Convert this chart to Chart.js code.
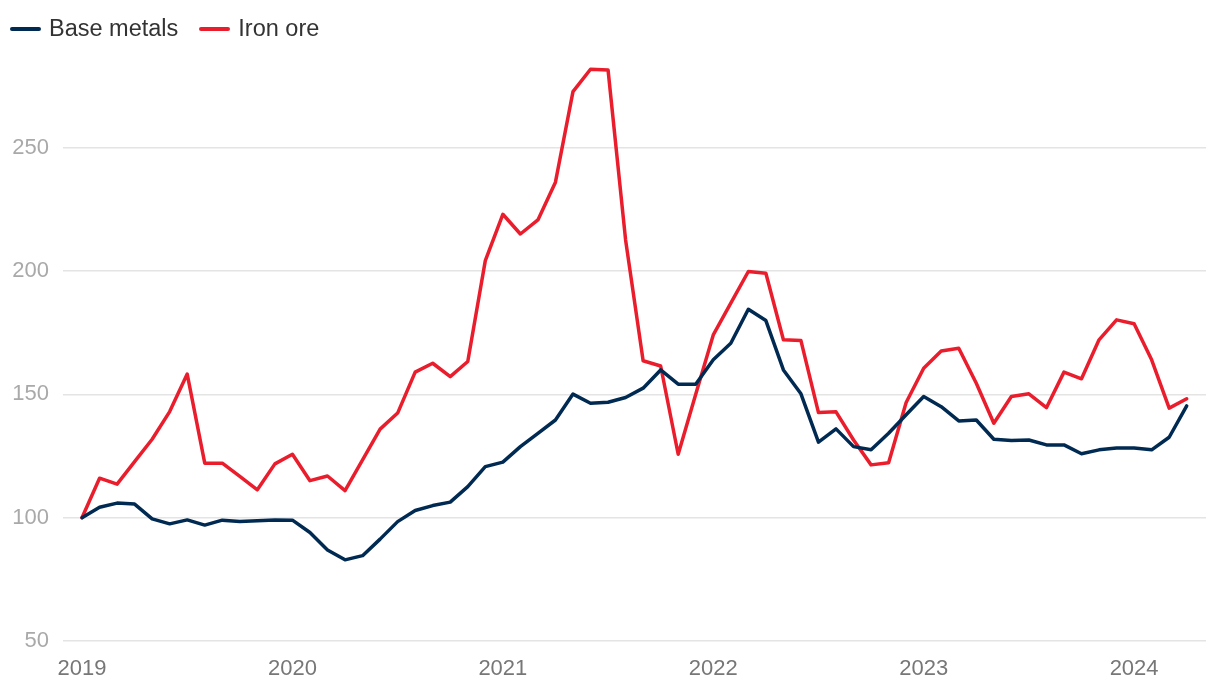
<!DOCTYPE html>
<html>
<head>
<meta charset="utf-8">
<script src="https://cdn.jsdelivr.net/npm/chart.js@4.4.1/dist/chart.umd.min.js"></script>
<style>
  html, body { margin: 0; padding: 0; background: #ffffff; }
  #wrap { position: relative; width: 1220px; height: 688px; }
  #legend { position: absolute; left: 10px; top: 15px; display: flex; align-items: center;
            font-family: "Liberation Sans", Arial, Helvetica, sans-serif; font-size: 23.5px; color: #333333; }
  .item { display: flex; align-items: center; margin-right: 21px; }
  .swatch { width: 31px; height: 4px; border-radius: 2px; margin-right: 8px; }
  canvas { position: absolute; left: 0; top: 0; }
</style>
</head>
<body>
<div id="wrap">
  <canvas id="c" width="1220" height="688"></canvas>
  <div id="legend"></div>
</div>
<script>
// Monthly index, Jan 2019 = 100 (Jan 2019 .. Apr 2024)
const seriesNames = ['Base metals', 'Iron ore'];
const seriesColors = ['#002a52', '#ea1d2c'];
const months = [];
for (let y = 2019; y <= 2024; y++) for (let m = 1; m <= 12; m++) months.push(y + '-' + String(m).padStart(2, '0'));
months.length = 64;

const baseMetals = [
  100, 104.2, 105.9, 105.5, 99.5, 97.5, 99.1, 97.0, 99.0, 98.4,
  98.7, 99.1, 99.0, 94.0, 86.9, 82.9, 84.6, 91.3, 98.4, 102.9,
  104.9, 106.3, 112.6, 120.7, 122.5, 128.8, 134.2, 139.6, 150.1, 146.4,
  146.8, 148.7, 152.5, 159.9, 154.1, 154.1, 164.0, 170.7, 184.5, 179.9,
  159.9, 150.2, 130.6, 136.0, 128.8, 127.5, 134.2, 141.7, 149.1, 145.0,
  139.2, 139.6, 131.8, 131.3, 131.5, 129.5, 129.5, 125.9, 127.5, 128.2,
  128.2, 127.5, 132.6, 145.3
];
const ironOre = [
  100, 116.0, 113.6, 122.7, 131.8, 143.0, 158.2, 122.1, 122.1, 116.7,
  111.3, 121.8, 125.7, 115.0, 116.9, 111.0, 123.4, 135.9, 142.4, 159.0,
  162.6, 157.2, 163.3, 204.2, 223.0, 215.0, 220.7, 236.0, 272.7, 281.8,
  281.5, 212.6, 163.6, 161.5, 125.7, 150.0, 174.1, 187.0, 199.8, 199.1,
  172.1, 171.8, 142.6, 142.9, 131.5, 121.4, 122.3, 146.7, 160.6, 167.6,
  168.7, 154.5, 138.3, 149.1, 150.2, 144.6, 159.0, 156.3, 172.1, 180.2,
  178.6, 164.0, 144.4, 148.2
];
const yearLabels = ['2019', '2020', '2021', '2022', '2023', '2024'];
const yTicks = [50, 100, 150, 200, 250];

// HTML legend (real text)
const legend = document.getElementById('legend');
seriesNames.forEach((n, i) => {
  const it = document.createElement('div'); it.className = 'item';
  const sw = document.createElement('div'); sw.className = 'swatch'; sw.style.background = seriesColors[i];
  const tx = document.createElement('span'); tx.textContent = n;
  it.appendChild(sw); it.appendChild(tx); legend.appendChild(it);
});

const toPts = arr => arr.map((v, i) => ({ x: i, y: v }));
const font = { family: '"Liberation Sans", Arial, Helvetica, sans-serif', size: 22 };

new Chart(document.getElementById('c'), {
  type: 'line',
  data: {
    datasets: [
      { label: seriesNames[0], data: toPts(baseMetals), borderColor: seriesColors[0], borderWidth: 3.5,
        pointRadius: 0, tension: 0, borderJoinStyle: 'round', borderCapStyle: 'round' },
      { label: seriesNames[1], data: toPts(ironOre), borderColor: seriesColors[1], borderWidth: 3.5,
        pointRadius: 0, tension: 0, borderJoinStyle: 'round', borderCapStyle: 'round' }
    ]
  },
  options: {
    responsive: false,
    animation: false,
    layout: { padding: { top: 49, right: 14, left: 0, bottom: 0 } },
    plugins: { legend: { display: false }, tooltip: { enabled: false } },
    scales: {
      x: {
        type: 'linear',
        min: -1.084,
        max: 64.1,
        grid: { display: false, drawTicks: false },
        border: { display: false },
        afterBuildTicks: s => { s.ticks = yearLabels.map((_, i) => ({ value: i * 12 })); },
        afterFit: s => { s.height = 47; },
        ticks: {
          autoSkip: false, maxRotation: 0, padding: 15, color: '#777777', font,
          callback: v => yearLabels[Math.round(v / 12)]
        }
      },
      y: {
        min: 50,
        max: 290,
        grid: { color: '#e4e4e4', lineWidth: 1.5, drawTicks: false },
        border: { display: false },
        afterBuildTicks: s => { s.ticks = yTicks.map(v => ({ value: v })); },
        afterFit: s => { s.width = 63; },
        ticks: { padding: 14, color: '#a9a9a9', font }
      }
    }
  }
});
</script>
</body>
</html>
